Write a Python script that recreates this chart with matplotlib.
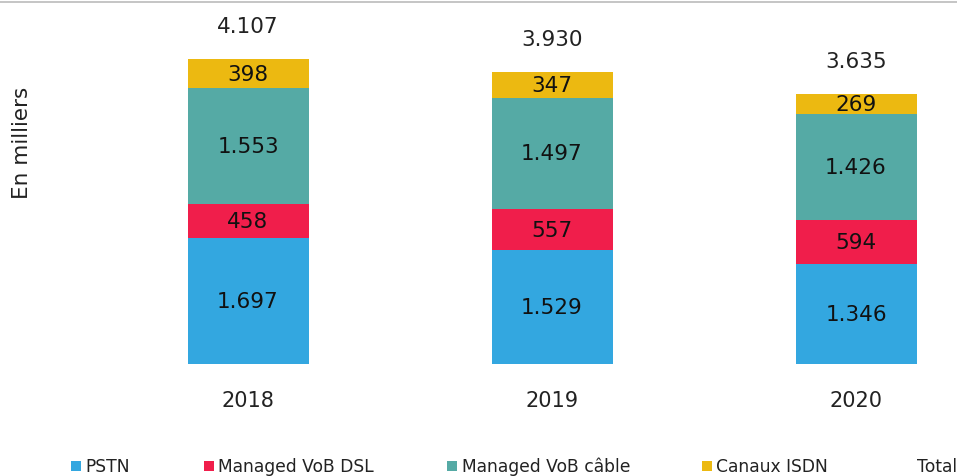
import matplotlib
matplotlib.use("Agg")
import matplotlib.pyplot as plt
from matplotlib.patches import Rectangle
from matplotlib.lines import Line2D

years = ["2018", "2019", "2020"]
series_names = ["PSTN", "Managed VoB DSL", "Managed VoB câble", "Canaux ISDN"]
pstn = [1697, 1529, 1346]
vob_dsl = [458, 557, 594]
vob_cable = [1553, 1497, 1426]
isdn = [398, 347, 269]
totals = [4107, 3930, 3635]
colors = ["#33A7E0", "#F01E4B", "#55AAA5", "#ECB911"]

def fmt(v):
    return f"{v:,}".replace(",", ".")

W, H = 957, 477
fig = plt.figure(figsize=(W / 100, H / 100), dpi=100)
plt.rcParams['font.family'] = ['DejaVu Sans']

ax_left, ax_right, ax_bottom, ax_top = 100, 957, 365, 10
ax = fig.add_axes([ax_left / W, (H - ax_bottom) / H, (ax_right - ax_left) / W, (ax_bottom - ax_top) / H])

x = list(range(len(years)))
px_per_unit = 304.0
ax.set_xlim((ax_left - 248) / px_per_unit, (ax_right - 248) / px_per_unit)
ax.set_ylim(0, (ax_bottom - ax_top) / 0.0743)

width = 121 / px_per_unit
bottoms = [0, 0, 0]
for vals, col in zip([pstn, vob_dsl, vob_cable, isdn], colors):
    ax.bar(x, vals, width=width, bottom=bottoms, color=col, edgecolor='none')
    for xi, v, b in zip(x, vals, bottoms):
        ax.text(xi, b + v / 2, fmt(v), ha='center', va='center', fontsize=15.5, color='#111111')
    bottoms = [b + v for b, v in zip(bottoms, vals)]

for xi, t in zip(x, totals):
    ax.annotate(fmt(t), (xi, t), xytext=(0, 24), textcoords='offset points',
                ha='center', va='center', fontsize=15.5, color='#222222')

ax.set_xticks(x)
ax.set_xticklabels(years, fontsize=15, color='#222222')
ax.tick_params(axis='x', length=0, pad=19)
ax.set_yticks([])
for s in ax.spines.values():
    s.set_visible(False)

fig.text(22 / W, 1 - 143 / H, "En milliers", rotation=90, ha='center', va='center',
         fontsize=15.5, color='#222222')

# top gray rule
fig.add_artist(Line2D([0, 1], [1 - 3 / H, 1 - 3 / H], transform=fig.transFigure,
                      color='#BBBBBB', linewidth=1.2))

# legend (manual placement)
leg_y = 467
marker_x = [71, 204, 447, 702]
text_x = [85, 218, 462, 716]
for mx, tx, name, col in zip(marker_x, text_x, series_names, colors):
    fig.add_artist(Rectangle((mx / W, 1 - (leg_y + 5) / H), 10 / W, 10 / H,
                             transform=fig.transFigure, facecolor=col, edgecolor='none'))
    fig.text(tx / W, 1 - leg_y / H, name, ha='left', va='center', fontsize=12.3, color='#222222')
fig.text(917 / W, 1 - leg_y / H, "Total", ha='left', va='center', fontsize=12.3, color='#222222')

fig.savefig("out.png", dpi=100)
